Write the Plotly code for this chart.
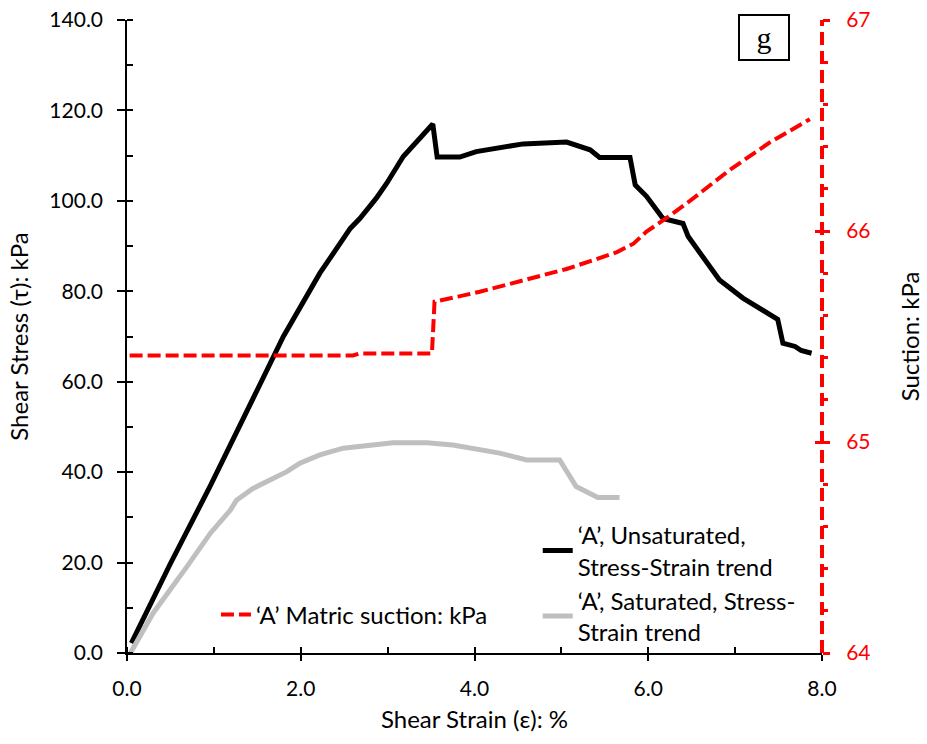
import plotly.graph_objects as go

# Unsaturated stress-strain (black)
unsat_x = [0.05, 0.50, 0.96, 1.68, 1.80, 2.22, 2.57, 2.68, 2.87, 2.99, 3.18, 3.52,
           3.57, 3.83, 4.02, 4.56, 5.06, 5.33, 5.44, 5.79, 5.85, 5.98, 6.17, 6.40, 6.46,
           6.82, 7.09, 7.49, 7.55, 7.69, 7.76, 7.88]
unsat_y = [2.2, 19.8, 37.0, 65.5, 70.0, 84.0, 93.9, 96.1, 100.6, 103.9, 109.8, 117.0,
           109.7, 109.7, 110.9, 112.6, 113.0, 111.3, 109.6, 109.6, 103.5, 101.0, 96.1, 95.0, 92.1,
           82.5, 78.5, 73.8, 68.5, 67.8, 66.9, 66.3]

# Saturated stress-strain (grey)
sat_x = [0.04, 0.30, 0.69, 0.96, 1.19, 1.26, 1.45, 1.84, 1.99, 2.22, 2.49, 3.06, 3.45,
         3.75, 4.29, 4.60, 4.98, 5.17, 5.42, 5.67]
sat_y = [0.0, 8.8, 19.1, 26.5, 31.6, 33.8, 36.4, 40.1, 42.0, 43.8, 45.3, 46.5, 46.5,
         46.0, 44.2, 42.7, 42.7, 36.8, 34.4, 34.4]

# Matric suction (red dashed, right axis)
suc_x = [0.03, 2.60, 2.68, 3.51, 3.54, 3.64, 3.81, 4.06, 4.29, 4.60, 4.79, 5.06, 5.40,
         5.64, 5.83, 5.98, 6.17, 6.44, 6.94, 7.40, 7.86]
suc_y = [65.41, 65.41, 65.42, 65.42, 65.665, 65.673, 65.689, 65.712, 65.736, 65.768, 65.79,
         65.82, 65.866, 65.90, 65.94, 65.997, 66.05, 66.13, 66.29, 66.42, 66.53]

x_ticks = [0, 2, 4, 6, 8]
y_ticks = [0, 20, 40, 60, 80, 100, 120, 140]
y2_ticks = [64, 65, 66, 67]

FONT = "Lato"
TXT = 24
TCK = 21
fig = go.Figure()

fig.add_trace(go.Scatter(x=unsat_x, y=unsat_y, mode="lines",
                         line=dict(color="black", width=5),
                         name="‘A’, Unsaturated,<br>Stress-Strain trend", legend="legend2"))
fig.add_trace(go.Scatter(x=sat_x, y=sat_y, mode="lines",
                         line=dict(color="#BFBFBF", width=5),
                         name="‘A’, Saturated, Stress-<br>Strain trend", legend="legend2"))
fig.add_trace(go.Scatter(x=suc_x, y=suc_y, mode="lines", yaxis="y2",
                         line=dict(color="#FF0000", width=4, dash="13px,5px"),
                         name="‘A’ Matric suction: kPa", legend="legend"))

title_font = dict(family=FONT, size=TXT, color="black")
tick_font = dict(family=FONT, size=TCK, color="black")

fig.update_layout(
    width=927, height=744,
    margin=dict(l=127, r=105, t=20, b=91),
    plot_bgcolor="white", paper_bgcolor="white",
    font=dict(family=FONT, size=TXT, color="black"),
    xaxis=dict(range=[0, 8], tickvals=x_ticks, ticktext=[f"{v:.1f}" for v in x_ticks],
               ticks="outside", ticklen=6, tickwidth=1.5, tickcolor="black", automargin=False,
               minor=dict(dtick=1, ticks="inside", ticklen=6, tickwidth=1.5, tickcolor="black"),
               showline=True, linecolor="black", linewidth=1.5, showgrid=False, zeroline=False,
               tickfont=tick_font, ticklabelstandoff=10,
               title=dict(text="Shear Strain (ε): %", font=title_font, standoff=12)),
    yaxis=dict(range=[0, 140], tickvals=y_ticks, ticktext=[f"{v:.1f}" for v in y_ticks],
               ticks="outside", ticklen=8, tickwidth=1.5, tickcolor="black", automargin=False,
               minor=dict(dtick=10, ticks="inside", ticklen=6, tickwidth=1.5, tickcolor="black"),
               showline=True, linecolor="black", linewidth=1.5, showgrid=False, zeroline=False,
               tickfont=tick_font, ticklabelstandoff=10,
               title=dict(text="Shear Stress (τ): kPa", font=title_font, standoff=14)),
    yaxis2=dict(range=[64, 67], overlaying="y", side="right", anchor="x", automargin=False,
                tickvals=y2_ticks, ticks="outside", ticklen=7, tickwidth=3, tickcolor="#FF0000",
                minor=dict(dtick=0.2, ticks="outside", ticklen=5, tickwidth=3, tickcolor="#FF0000"),
                showline=False, showgrid=False, zeroline=False,
                tickfont=dict(family=FONT, size=TCK, color="#FF0000"), ticklabelstandoff=12,
                title=dict(text="Suction: kPa", font=title_font, standoff=32)),
    # overlay axes giving inward halves of major ticks (crossing ticks)
    xaxis2=dict(range=[0, 8], overlaying="x", anchor="y", side="bottom", tickvals=x_ticks,
                ticks="inside", ticklen=6, tickwidth=1.5, tickcolor="black", automargin=False,
                showticklabels=False, showline=False, showgrid=False, zeroline=False),
    yaxis3=dict(range=[0, 140], overlaying="y", anchor="x", side="left", tickvals=y_ticks,
                ticks="inside", ticklen=6, tickwidth=1.5, tickcolor="black", automargin=False,
                showticklabels=False, showline=False, showgrid=False, zeroline=False),
    yaxis4=dict(range=[64, 67], overlaying="y", anchor="x", side="right", tickvals=y2_ticks,
                ticks="inside", ticklen=7, tickwidth=3, tickcolor="#FF0000", automargin=False,
                showticklabels=False, showline=False, showgrid=False, zeroline=False),
    legend=dict(x=0.128, y=0.060, xanchor="left", yanchor="middle", bgcolor="rgba(0,0,0,0)",
                font=dict(family=FONT, size=TXT, color="black")),
    legend2=dict(x=0.591, y=0.110, xanchor="left", yanchor="middle", bgcolor="rgba(0,0,0,0)",
                 font=dict(family=FONT, size=TXT, color="black")),
    shapes=[dict(type="line", xref="paper", yref="paper", x0=1, x1=1, y0=0, y1=1,
                 line=dict(color="#FF0000", width=4, dash="13px,6px"))],
    annotations=[dict(text="g", xref="paper", yref="paper", x=0.9165, y=0.9716,
                      xanchor="center", yanchor="middle", showarrow=False,
                      font=dict(family="Liberation Serif", size=30, color="black"),
                      bordercolor="black", borderwidth=2, borderpad=0, width=48, height=43,
                      bgcolor="white")],
)

# dummy traces to activate the overlay axes
fig.add_trace(go.Scatter(x=[None], y=[None], xaxis="x2", yaxis="y3", showlegend=False, hoverinfo="skip"))
fig.add_trace(go.Scatter(x=[None], y=[None], yaxis="y4", showlegend=False, hoverinfo="skip"))

fig.write_html("out.html")
